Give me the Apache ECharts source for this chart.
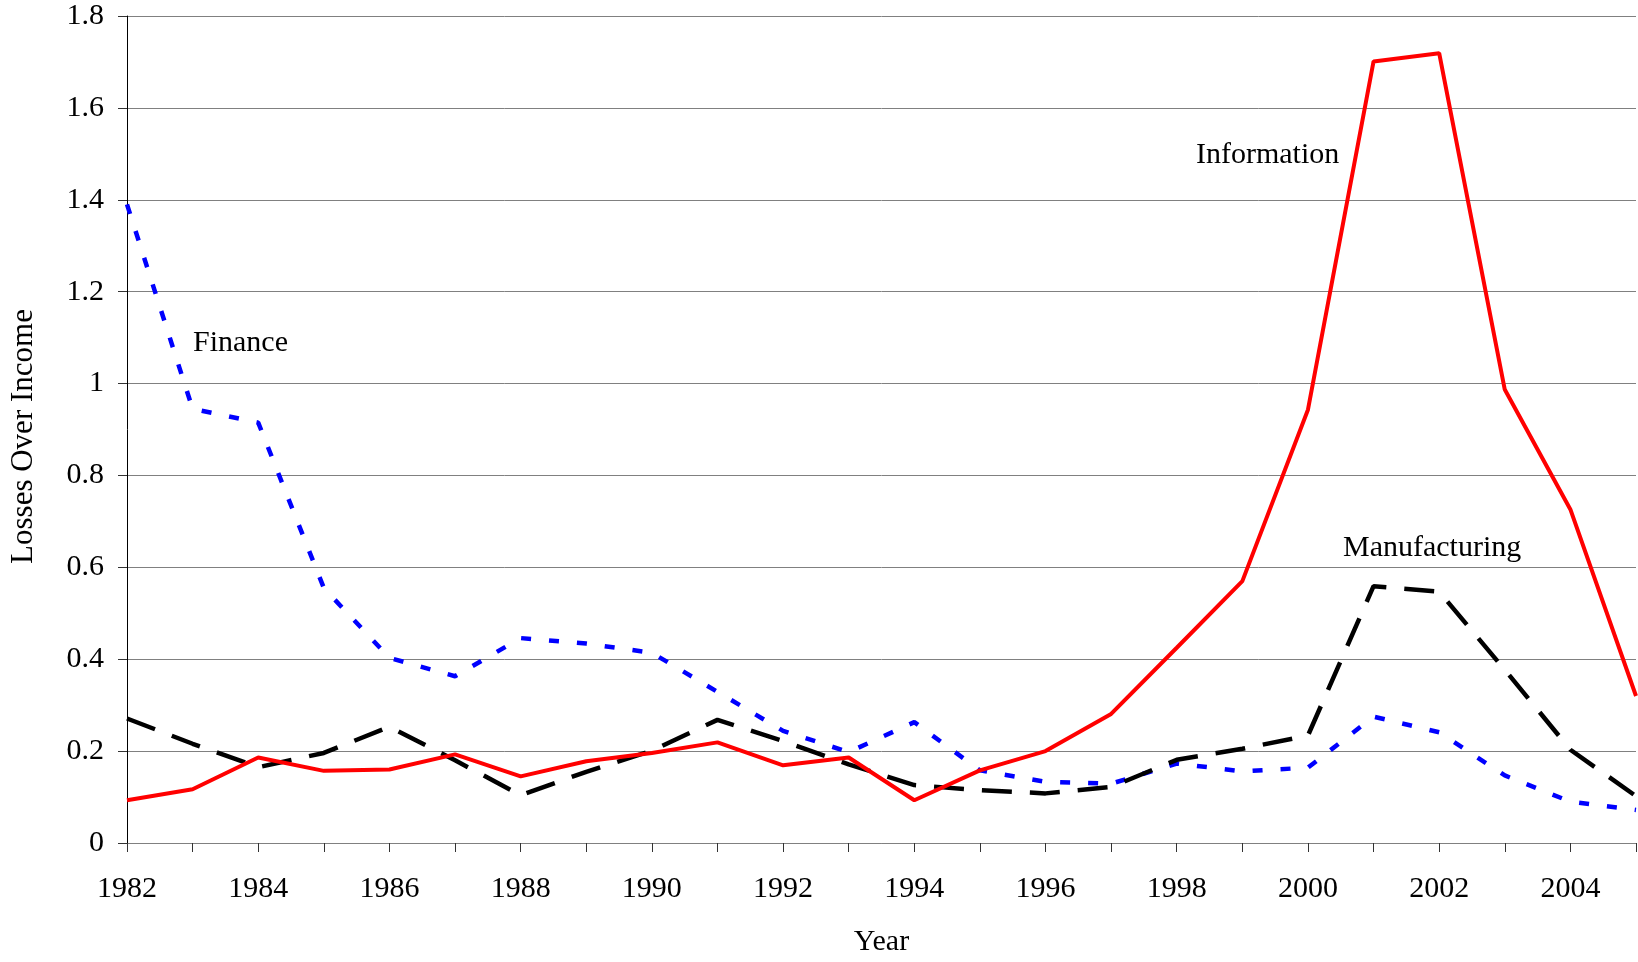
<!DOCTYPE html>
<html>
<head>
<meta charset="utf-8">
<script src="https://cdn.jsdelivr.net/npm/echarts@6/dist/echarts.min.js"></script>
<style>
  html, body { margin: 0; padding: 0; background: #fff; }
  #chart { width: 1638px; height: 962px; }
</style>
</head>
<body>
<div id="chart"></div>
<script>
// data
const years = ['1982','1983','1984','1985','1986','1987','1988','1989','1990','1991','1992','1993',
  '1994','1995','1996','1997','1998','1999','2000','2001','2002','2003','2004','2005'];
const finance = [1.39, 0.945, 0.915, 0.555, 0.403, 0.363, 0.446, 0.434, 0.414, 0.329, 0.244, 0.198,
  0.263, 0.158, 0.133, 0.129, 0.173, 0.156, 0.164, 0.275, 0.241, 0.147, 0.09, 0.072];
const manufacturing = [0.271, 0.216, 0.165, 0.196, 0.253, 0.18, 0.104, 0.155, 0.201, 0.268, 0.222, 0.171,
  0.126, 0.115, 0.108, 0.122, 0.181, 0.205, 0.234, 0.559, 0.547, 0.377, 0.203, 0.102];
const information = [0.093, 0.117, 0.186, 0.157, 0.16, 0.193, 0.145, 0.178, 0.196, 0.219, 0.169, 0.186,
  0.093, 0.158, 0.2, 0.281, 0.425, 0.57, 0.943, 1.701, 1.719, 0.987, 0.726, 0.32];

const fontFam = '"Liberation Serif", "Times New Roman", serif';

let mychart = echarts.init(document.getElementById('chart'));
let option = {
  animation: false,
  textStyle: { fontFamily: fontFam },
  grid: { left: 121, right: 2, top: 16, bottom: 112 },
  xAxis: {
    type: 'category',
    data: years,
    boundaryGap: false,
    name: 'Year',
    nameLocation: 'middle',
    nameGap: 84,
    nameTextStyle: { fontFamily: fontFam, fontSize: 30, color: '#000' },
    axisLine: { lineStyle: { color: '#808080', width: 1 } },
    axisTick: { show: true, interval: 0, length: 9, lineStyle: { color: '#333' } },
    axisLabel: { interval: 1, margin: 31, fontFamily: fontFam, fontSize: 30, color: '#000' },
    splitLine: { show: false }
  },
  yAxis: {
    type: 'value',
    min: 0,
    max: 1.8,
    interval: 0.2,
    name: 'Losses Over Income',
    nameLocation: 'middle',
    nameGap: 88,
    nameTextStyle: { fontFamily: fontFam, fontSize: 31, color: '#000', padding: [0, 14, 0, 0] },
    axisLine: { show: true, lineStyle: { color: '#000', width: 1 } },
    axisTick: { show: true, length: 9, lineStyle: { color: '#333' } },
    axisLabel: { margin: 23, fontFamily: fontFam, fontSize: 30, color: '#000' },
    splitLine: { show: true, lineStyle: { color: '#808080', width: 1 } }
  },
  series: [
    {
      name: 'Finance',
      type: 'line',
      data: finance,
      symbol: 'none',
      z: 2,
      lineStyle: { color: '#0000ff', width: 4.5, type: [10, 18], cap: 'butt' }
    },
    {
      name: 'Manufacturing',
      type: 'line',
      data: manufacturing,
      symbol: 'none',
      z: 3,
      lineStyle: { color: '#000000', width: 4.5, type: [30, 18], cap: 'butt' }
    },
    {
      name: 'Information',
      type: 'line',
      data: information,
      symbol: 'none',
      z: 4,
      lineStyle: { color: '#ff0000', width: 4, type: 'solid' }
    }
  ],
  graphic: [
    { type: 'text', left: 193, top: 328, style: { text: 'Finance', font: '30px ' + fontFam, fill: '#000' } },
    { type: 'text', left: 1196, top: 140, style: { text: 'Information', font: '30px ' + fontFam, fill: '#000' } },
    { type: 'text', left: 1343, top: 533, style: { text: 'Manufacturing', font: '30px ' + fontFam, fill: '#000' } }
  ]
};
mychart.setOption(option);
window.addEventListener('resize', function () {
  mychart.resize();
});
</script>
</body>
</html>
